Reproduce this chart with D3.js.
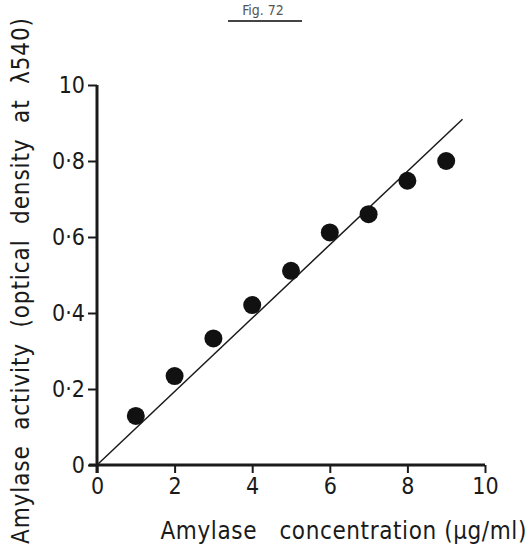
<!DOCTYPE html>
<html><head><meta charset="utf-8">
<script src="https://cdn.jsdelivr.net/npm/d3@7"></script>
<style>
body{margin:0;background:#fff;}
text{font-family:"DejaVu Sans Condensed","DejaVu Sans","Liberation Sans Narrow",sans-serif;fill:#1a1a1a;}
</style></head>
<body><svg id="c" width="529" height="553"></svg>
<script>
const concentration = [1, 2, 3, 4, 5, 6, 7, 8, 9];
const activity = [0.129, 0.234, 0.333, 0.421, 0.511, 0.612, 0.66, 0.748, 0.80];
const fitLine = [[0, 0], [9.42, 0.91]];
const xTicks = [0, 2, 4, 6, 8, 10];
const yTicks = [0, 0.2, 0.4, 0.6, 0.8, 1.0];
const yTickLabels = ["0", "0·2", "0·4", "0·6", "0·8", "10"];

const svg = d3.select("#c");
const x = d3.scaleLinear().domain([0, 10]).range([97, 485]);
const y = d3.scaleLinear().domain([0, 1]).range([465, 85]);
const ink = "#1a1a1a";

// title
svg.append("text").attr("x", 263).attr("y", 15).attr("text-anchor", "middle")
  .style("font-size", "14px").style("fill", "#555").text("Fig. 72");
svg.append("line").attr("x1", 228).attr("x2", 302).attr("y1", 21).attr("y2", 21)
  .attr("stroke", "#444").attr("stroke-width", 2);

// x axis
const gx = svg.append("g").attr("transform", `translate(0,${y(0)})`)
  .call(d3.axisBottom(x).tickValues(xTicks).tickFormat(d3.format("d")).tickSize(8).tickPadding(5));
gx.select(".domain").attr("d", `M${x(0) - 8},0H${x(10)}`).attr("stroke", ink).attr("stroke-width", 3);
gx.selectAll(".tick line").attr("stroke", ink).attr("stroke-width", 2);
gx.selectAll(".tick text").style("font-size", "23px").style("fill", ink);

// y axis
const gy = svg.append("g").attr("transform", `translate(${x(0)},0)`)
  .call(d3.axisLeft(y).tickValues(yTicks).tickFormat((d, i) => yTickLabels[i]).tickSize(9).tickPadding(3));
gy.select(".domain").attr("d", `M0,${y(1)}V${y(0) + 8}`).attr("stroke", ink).attr("stroke-width", 3);
gy.selectAll(".tick line").attr("stroke", ink).attr("stroke-width", 2);
gy.selectAll(".tick text").style("font-size", "23px").style("fill", ink);

// fitted line
svg.append("path").datum(fitLine)
  .attr("d", d3.line().x(d => x(d[0])).y(d => y(d[1])))
  .attr("stroke", ink).attr("stroke-width", 1.5).attr("fill", "none");

// points
svg.selectAll("circle.pt").data(concentration).join("circle").attr("class", "pt")
  .attr("cx", d => x(d)).attr("cy", (d, i) => y(activity[i])).attr("r", 9).attr("fill", "#111");

// axis labels
svg.append("text").attr("x", 527).attr("y", 539).attr("text-anchor", "end")
  .style("font-size", "24px").style("letter-spacing", "0.6px").attr("xml:space", "preserve")
  .text("Amylase   concentration (µg/ml)");
svg.append("text").attr("transform", "translate(29,544) rotate(-90)").attr("text-anchor", "start")
  .style("font-size", "24px").style("letter-spacing", "0.9px").attr("xml:space", "preserve")
  .text("Amylase  activity  (optical  density  at  λ540)");
</script></body></html>
